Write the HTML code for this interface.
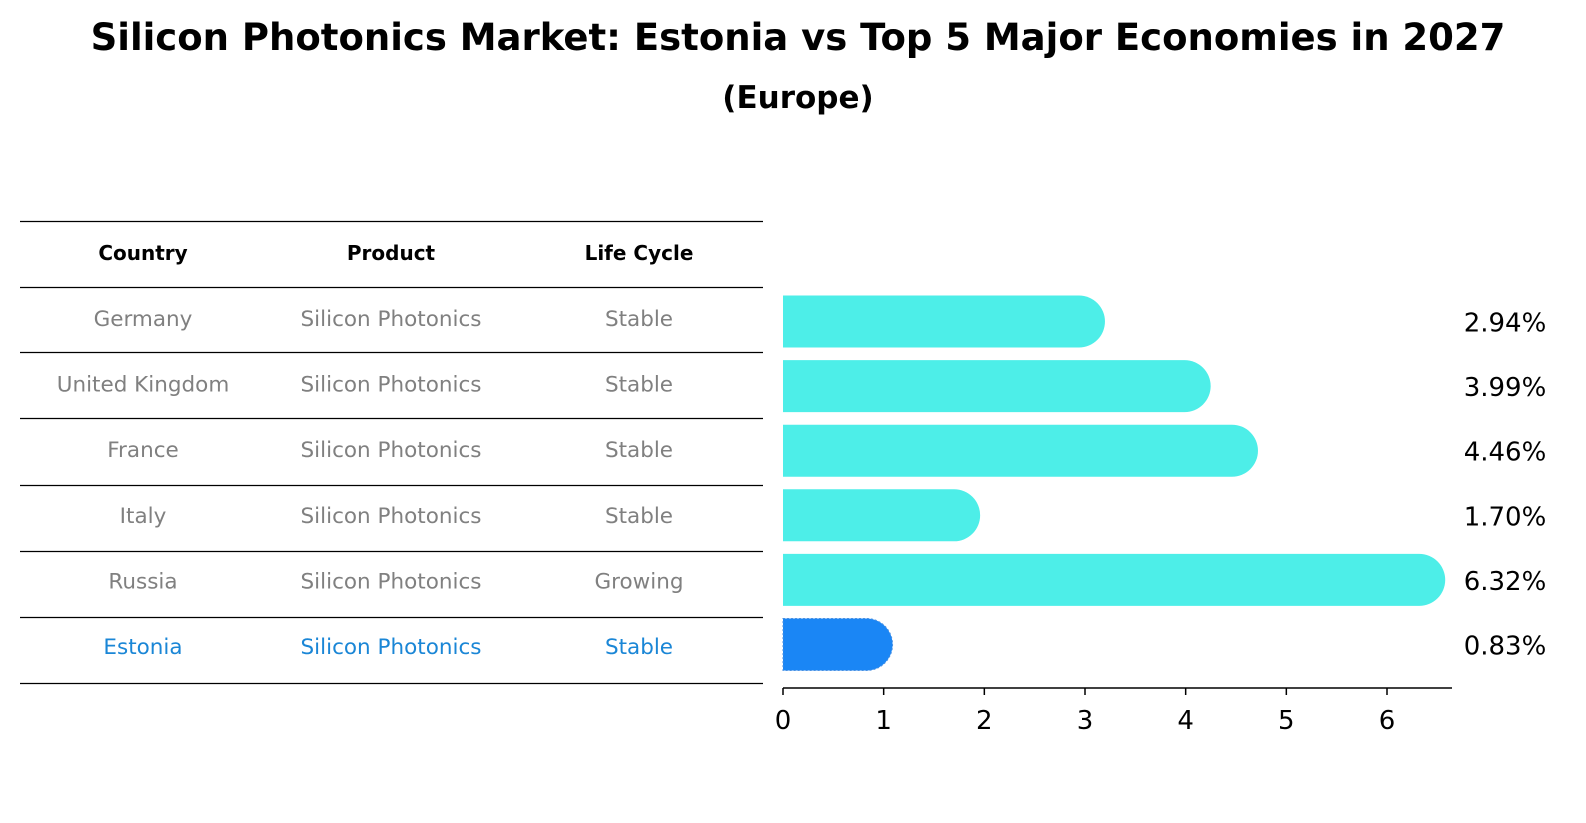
<!DOCTYPE html>
<html><head><meta charset="utf-8"><style>
html,body{margin:0;padding:0;overflow:hidden;background:#fff;font-family:"Liberation Sans","DejaVu Sans",sans-serif;}
svg{display:block;}
svg text{font-family:"DejaVu Sans","Liberation Sans",sans-serif;}
</style></head><body>
<svg width="1586" height="823" viewBox="0 0 1586 823">
<text x="798" y="50" text-anchor="middle" font-size="37" font-weight="bold">Silicon Photonics Market: Estonia vs Top 5 Major Economies in 2027</text>
<text x="798" y="108" text-anchor="middle" font-size="31" font-weight="bold">(Europe)</text>
<g id="table"></g>
<g id="bars"></g>
</svg>
<script>
const countries=["Germany","United Kingdom","France","Italy","Russia","Estonia"];
const products=["Silicon Photonics","Silicon Photonics","Silicon Photonics","Silicon Photonics","Silicon Photonics","Silicon Photonics"];
const lifeCycles=["Stable","Stable","Stable","Stable","Growing","Stable"];
const values=[2.94,3.99,4.46,1.70,6.32,0.83];
const ticks=[0,1,2,3,4,5,6];
const NS="http://www.w3.org/2000/svg";
function mk(p,t,a){const e=document.createElementNS(NS,t);for(const k in a)e.setAttribute(k,a[k]);p.appendChild(e);return e;}
const tb=document.getElementById('table');
const lineYs=[221,287,352,418,485,551,617,683];
lineYs.forEach(y=>{const l=mk(tb,'line',{x1:20,x2:763,y1:y+0.5,y2:y+0.5,stroke:'#000','stroke-width':1.2});

});
const cols=[143,391,639];
["Country","Product","Life Cycle"].forEach((h,i)=>{const t=mk(tb,'text',{x:cols[i],y:260,'text-anchor':'middle','font-size':20,'font-weight':'bold'});t.textContent=h;

});
const rowY=i=>319+i*65.6;
countries.forEach((c,i)=>{const col=c==="Estonia"?"#1a86d6":"#808080";
[c,products[i],lifeCycles[i]].forEach((v,j)=>{const t=mk(tb,'text',{x:cols[j],y:rowY(i)+7,'text-anchor':'middle','font-size':21.5,fill:col});t.textContent=v;

});});
const bg=document.getElementById('bars');
const x0=783,pxu=(1387-783)/6;
const xs=v=>x0+v*pxu;
const by=i=>321.5+i*64.6;
const bh=52;
values.forEach((v,i)=>{const est=countries[i]==="Estonia";const fill=est?"#1a86f5":"#4deee8";
const x1=xs(v),r=bh/2,yc=by(i);
const p=mk(bg,'path',{d:`M${x0},${yc-r}H${x1}A${r},${r} 0 0 1 ${x1},${yc+r}H${x0}Z`,fill:fill});
if(est){p.setAttribute('stroke','#4a90e2');p.setAttribute('stroke-dasharray','2,2');}


const t=mk(bg,'text',{x:1505,y:yc+10,'text-anchor':'middle','font-size':26});t.textContent=v.toFixed(2)+'%';

});
const ax=mk(bg,'line',{x1:x0,x2:1452,y1:688,y2:688,stroke:'#000','stroke-width':1.5});


ticks.forEach(t=>{const l=mk(bg,'line',{x1:xs(t),x2:xs(t),y1:688,y2:695,stroke:'#000','stroke-width':1.5});


const tx=mk(bg,'text',{x:xs(t),y:729,'text-anchor':'middle','font-size':26});tx.textContent=t;

});
</script>
</body></html>
